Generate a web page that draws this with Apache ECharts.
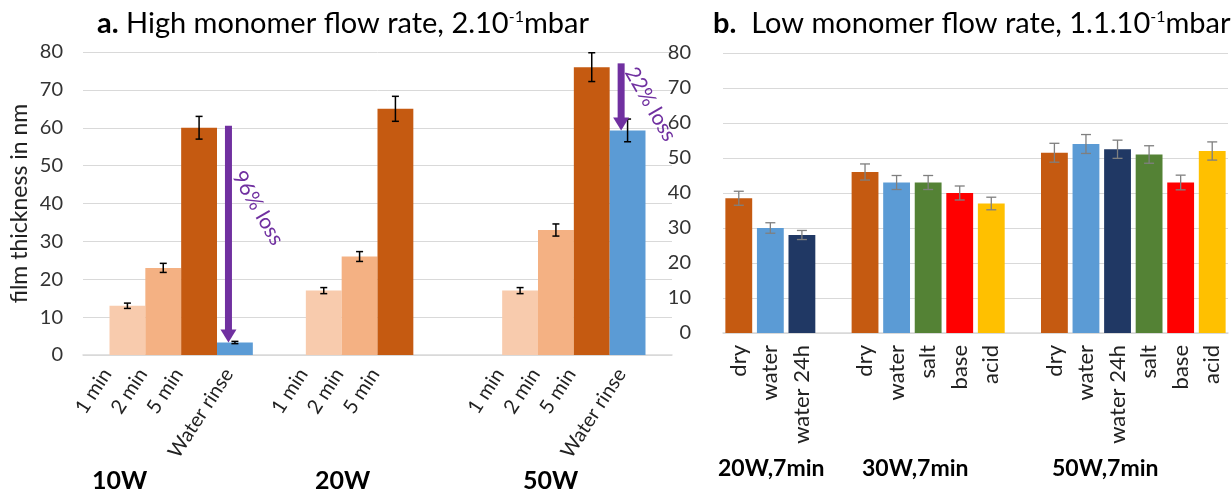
<!DOCTYPE html>
<html>
<head>
<meta charset="utf-8">
<script src="https://cdn.jsdelivr.net/npm/echarts@6/dist/echarts.min.js"></script>
<style>
  html, body { margin: 0; padding: 0; background: #fff; }
  #chart { width: 1232px; height: 493px; }
</style>
</head>
<body>
<div id="chart"></div>
<script>
// ---- panel a: high monomer flow rate ----
const leftGroups = ['10W', '20W', '50W'];
const leftTimes = ['1 min', '2 min', '5 min', 'Water rinse'];
const left1min = [13, 17, 17];
const left2min = [23, 26, 33];
const left5min = [60, 65, 76];
const leftRinse = [3.3, null, 59.3];
const left1minErr = [0.7, 0.8, 0.8];
const left2minErr = [1.2, 1.3, 1.6];
const left5minErr = [3, 3.3, 3.8];
const leftRinseErr = [0.3, null, 3];
// loss arrows (start value, text position value, text)
const lossFrom = [60.5, null, 77];
const lossTextAt = [38.8, null, 66.2];
const lossText = ['96% loss', '', '22% loss'];

// ---- panel b: low monomer flow rate ----
const rightCats = ['dry', 'water', 'water 24h', '',
  'dry', 'water', 'salt', 'base', 'acid', '',
  'dry', 'water', 'water 24h', 'salt', 'base', 'acid'];
const rightVals = [38.5, 30, 28, null, 46, 43, 43, 40, 37, null, 51.5, 54, 52.5, 51, 43, 52];
const rightErr = [2, 1.5, 1.3, null, 2.3, 2, 2, 2, 1.8, null, 2.7, 2.7, 2.6, 2.5, 2.1, 2.6];

const yTicks = [0, 80, 10];

const font = 'Lato';
const leftColors = ['#F8CBAD', '#F4B183', '#C55A11', '#5B9BD5'];
const treatColors = {
  'dry': '#C55A11', 'water': '#5B9BD5', 'water 24h': '#203864',
  'salt': '#548235', 'base': '#FF0000', 'acid': '#FFC000'
};
const catGap = 0.27;
const labelSize = 20;
const labelFont = labelSize + 'px ' + font;
const labelAngle = 57 * Math.PI / 180;

const leftSeriesVals = [left1min, left2min, left5min, leftRinse];
const leftSeriesErr = [left1minErr, left2minErr, left5minErr, leftRinseErr];

// text widths for the slanted time labels
const measureCtx = document.createElement('canvas').getContext('2d');
measureCtx.font = labelFont;
const timeWidths = leftTimes.map(function (t) { return measureCtx.measureText(t).width; });

let myChart = echarts.init(document.getElementById('chart'));

const barSeries = leftTimes.map(function (name, s) {
  return {
    name: name,
    type: 'bar',
    xAxisIndex: 0,
    yAxisIndex: 0,
    barGap: 0,
    barCategoryGap: (catGap * 100) + '%',
    itemStyle: { color: leftColors[s] },
    data: leftSeriesVals[s].map(function (v) { return v == null ? '-' : v; }),
    z: 2
  };
});

// rows for panel a: [group, slot, value, err]
const leftErrRows = [];
leftSeriesVals.forEach(function (vals, s) {
  vals.forEach(function (v, g) {
    if (v != null) leftErrRows.push([g, s, v, leftSeriesErr[s][g]]);
  });
});

const rightErrRows = [];
rightVals.forEach(function (v, i) {
  if (v != null) rightErrRows.push([i, v, rightErr[i]]);
});

const arrowRows = [];
const arrowTexts = [];
lossFrom.forEach(function (f, g) {
  if (f != null) {
    arrowRows.push([g, f, leftRinse[g], lossTextAt[g]]);
    arrowTexts.push(lossText[g]);
  }
});

function slotX(api, g, slot) {
  const band = api.size([1, 0])[0];
  const barW = band * (1 - catGap) / 4;
  return { x: api.coord([g, 0])[0] + (slot - 1.5) * barW, w: barW };
}

myChart.setOption({
  animation: false,
  textStyle: { fontFamily: font },
  grid: [
    { left: 83, right: 560, top: 52, bottom: 138 },
    { left: 723, right: 4, top: 53, bottom: 160 }
  ],
  xAxis: [
    {
      gridIndex: 0, type: 'category', data: leftGroups,
      axisTick: { show: false }, axisLabel: { show: false },
      axisLine: { lineStyle: { color: '#D9D9D9', width: 1.5 } }
    },
    {
      gridIndex: 1, type: 'category', data: rightCats,
      axisTick: { show: false },
      axisLine: { lineStyle: { color: '#D9D9D9', width: 1.5 } },
      axisLabel: {
        interval: 0, rotate: 90, margin: 12,
        fontFamily: font, fontSize: 22, color: '#222'
      }
    }
  ],
  yAxis: [
    {
      gridIndex: 0, type: 'value', min: yTicks[0], max: yTicks[1], interval: yTicks[2],
      name: 'film thickness in nm', nameLocation: 'middle', nameGap: 52,
      nameTextStyle: { fontFamily: font, fontSize: 23, color: '#222' },
      axisLine: { show: false }, axisTick: { show: false },
      axisLabel: { margin: 20, fontFamily: font, fontSize: 20, color: '#333' },
      splitLine: { lineStyle: { color: '#D9D9D9' } }
    },
    {
      gridIndex: 1, type: 'value', min: yTicks[0], max: yTicks[1], interval: yTicks[2],
      axisLine: { show: false }, axisTick: { show: false },
      axisLabel: { margin: 32, fontFamily: font, fontSize: 20, color: '#333' },
      splitLine: { lineStyle: { color: '#D9D9D9' } }
    }
  ],
  graphic: [
    {
      type: 'text', left: 97, top: 9,
      style: {
        text: '{b|a.} High monomer flow rate, 2.10{s|-1}mbar',
        font: '29px ' + font, fill: '#000',
        rich: {
          b: { fontWeight: 'bold', fontSize: 29, fontFamily: font },
          s: { fontSize: 16, fontFamily: font, verticalAlign: 'top', padding: [0, 0, 14, 0] }
        }
      }
    },
    {
      type: 'text', left: 713, top: 9,
      style: {
        text: '{b|b.}  Low monomer flow rate, 1.1.10{s|-1}mbar',
        font: '29px ' + font, fill: '#000',
        rich: {
          b: { fontWeight: 'bold', fontSize: 29, fontFamily: font },
          s: { fontSize: 16, fontFamily: font, verticalAlign: 'top', padding: [0, 0, 14, 0] }
        }
      }
    },
    { type: 'text', left: 92, top: 468, style: { text: '10W', font: 'bold 25px ' + font, fill: '#000' } },
    { type: 'text', left: 315, top: 468, style: { text: '20W', font: 'bold 25px ' + font, fill: '#000' } },
    { type: 'text', left: 523, top: 468, style: { text: '50W', font: 'bold 25px ' + font, fill: '#000' } },
    { type: 'text', left: 718, top: 457, style: { text: '20W,7min', font: 'bold 23px ' + font, fill: '#000' } },
    { type: 'text', left: 862, top: 457, style: { text: '30W,7min', font: 'bold 23px ' + font, fill: '#000' } },
    { type: 'text', left: 1052, top: 457, style: { text: '50W,7min', font: 'bold 23px ' + font, fill: '#000' } }
  ],
  series: barSeries.concat([
    {
      type: 'custom',
      name: 'err a',
      xAxisIndex: 0, yAxisIndex: 0,
      encode: { x: 0, y: 2 },
      data: leftErrRows,
      z: 5,
      renderItem: function (params, api) {
        const p = slotX(api, api.value(0), api.value(1));
        const hi = api.coord([api.value(0), api.value(2) + api.value(3)])[1];
        const lo = api.coord([api.value(0), api.value(2) - api.value(3)])[1];
        const st = { stroke: '#000', lineWidth: 1.5 };
        return {
          type: 'group',
          children: [
            { type: 'line', shape: { x1: p.x, y1: hi, x2: p.x, y2: lo }, style: st },
            { type: 'line', shape: { x1: p.x - 3.5, y1: hi, x2: p.x + 3.5, y2: hi }, style: st },
            { type: 'line', shape: { x1: p.x - 3.5, y1: lo, x2: p.x + 3.5, y2: lo }, style: st }
          ]
        };
      }
    },
    {
      // slanted time labels under each bar
      type: 'custom',
      name: 'time labels',
      xAxisIndex: 0, yAxisIndex: 0,
      encode: { x: 0, y: 2 },
      data: leftErrRows,
      clip: false,
      z: 5,
      renderItem: function (params, api) {
        const slot = api.value(1);
        const p = slotX(api, api.value(0), slot);
        const y0 = api.coord([api.value(0), 0])[1];
        const L = timeWidths[slot];
        const cy = y0 + 10 + (L * Math.sin(labelAngle) + labelSize * Math.cos(labelAngle)) / 2;
        return {
          type: 'text', x: p.x - 34, y: cy, rotation: labelAngle,
          style: {
            text: leftTimes[slot], fill: '#222', font: labelFont,
            align: 'center', verticalAlign: 'middle'
          }
        };
      }
    },
    {
      type: 'custom',
      name: 'loss arrows',
      xAxisIndex: 0, yAxisIndex: 0,
      encode: { x: 0, y: 1 },
      data: arrowRows,
      z: 6,
      renderItem: function (params, api) {
        const p = slotX(api, api.value(0), 3);
        const cx = p.x - 0.18 * p.w;
        const yTop = api.coord([api.value(0), api.value(1)])[1];
        const yTip = api.coord([api.value(0), api.value(2)])[1];
        const yText = api.coord([api.value(0), api.value(3)])[1];
        return {
          type: 'group',
          children: [
            { type: 'rect', shape: { x: cx - 3.5, y: yTop, width: 7, height: yTip - 12 - yTop }, style: { fill: '#7030A0' } },
            { type: 'polygon', shape: { points: [[cx - 8, yTip - 13], [cx + 8, yTip - 13], [cx, yTip]] }, style: { fill: '#7030A0' } },
            {
              type: 'text', x: p.x + 23, y: yText, rotation: -Math.PI / 3,
              style: {
                text: arrowTexts[params.dataIndex], fill: '#7030A0',
                font: '21px ' + font, align: 'center', verticalAlign: 'middle'
              }
            }
          ]
        };
      }
    },
    {
      type: 'bar',
      name: 'low flow',
      xAxisIndex: 1, yAxisIndex: 1,
      barCategoryGap: '15%',
      data: rightVals.map(function (v, i) {
        return v == null ? '-' : { value: v, itemStyle: { color: treatColors[rightCats[i]] } };
      })
    },
    {
      type: 'custom',
      name: 'err b',
      xAxisIndex: 1, yAxisIndex: 1,
      encode: { x: 0, y: 1 },
      data: rightErrRows,
      z: 5,
      renderItem: function (params, api) {
        const x = api.coord([api.value(0), 0])[0];
        const hi = api.coord([api.value(0), api.value(1) + api.value(2)])[1];
        const lo = api.coord([api.value(0), api.value(1) - api.value(2)])[1];
        const st = { stroke: '#7F7F7F', lineWidth: 1.3 };
        return {
          type: 'group',
          children: [
            { type: 'line', shape: { x1: x, y1: hi, x2: x, y2: lo }, style: st },
            { type: 'line', shape: { x1: x - 5, y1: hi, x2: x + 5, y2: hi }, style: st },
            { type: 'line', shape: { x1: x - 5, y1: lo, x2: x + 5, y2: lo }, style: st }
          ]
        };
      }
    }
  ])
});
</script>
</body>
</html>
